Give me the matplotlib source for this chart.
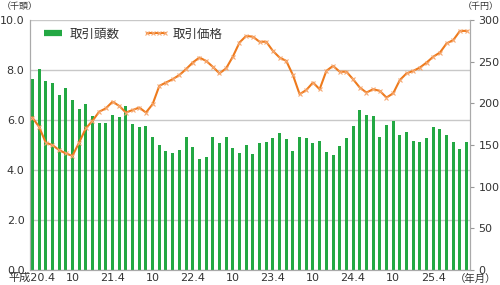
import matplotlib as mpl
import matplotlib.pyplot as plt
from matplotlib.lines import Line2D

# DejaVu for digits, Noto CJK for the japanese glyphs
mpl.rcParams["font.family"] = ["DejaVu Sans", "Noto Sans CJK JP"]

# monthly data, H20.4 - H25.9
heads = [7.63, 8.04, 7.57, 7.47, 7.00, 7.29, 6.81, 6.43, 6.63, 6.16, 5.89, 5.89,
         6.21, 6.12, 6.56, 5.84, 5.73, 5.77, 5.32, 5.00, 4.77, 4.69, 4.81, 5.31,
         4.93, 4.43, 4.52, 5.33, 5.08, 5.31, 4.88, 4.69, 5.00, 4.64, 5.09, 5.13,
         5.27, 5.49, 5.24, 4.77, 5.33, 5.28, 5.09, 5.17, 4.72, 4.59, 4.97, 5.29,
         5.76, 6.40, 6.20, 6.16, 5.33, 5.80, 5.97, 5.40, 5.51, 5.17, 5.13, 5.29,
         5.73, 5.64, 5.40, 5.13, 4.83, 5.11]  # 千頭
price = [183, 172, 153, 150, 144, 140, 137, 153, 170, 179, 190, 194,
         202, 197, 189, 192, 195, 189, 199, 221, 225, 229, 234, 241,
         249, 255, 251, 244, 236, 242, 256, 273, 281, 280, 274, 274,
         263, 255, 251, 234, 211, 216, 225, 217, 239, 245, 238, 238,
         229, 219, 213, 217, 215, 207, 212, 228, 236, 239, 243, 249,
         256, 261, 272, 276, 287, 287]  # 千円
xtick_labels = ["平成20.4", "10", "21.4", "10", "22.4", "10",
                "23.4", "10", "24.4", "10", "25.4"]

GREEN = "#23a843"
ORANGE = "#ee7a1c"
GRID = "#c8c8c8"
TXT = "#333333"

x = list(range(len(heads)))

fig = plt.figure(figsize=(5, 2.85), dpi=100)
ax = fig.add_axes([0.06, 0.0526, 0.88, 0.877])
ax2 = ax.twinx()

ax.bar(x, heads, width=0.45, color=GREEN, zorder=2)
ax.set_ylim(0, 10)
ax.set_yticks([0, 2, 4, 6, 8, 10])
ax.set_yticklabels([f"{v:.1f}" for v in [0, 2, 4, 6, 8, 10]])
ax.set_xlim(-0.35, 65.5)
ax.set_xticks(x[::6])
ax.set_xticklabels(xtick_labels)
ax.grid(axis="y", color=GRID, lw=1)
ax.set_axisbelow(True)
ax.tick_params(axis="x", length=0, pad=2, labelsize=8, colors=TXT)
ax.tick_params(axis="y", length=0, pad=4, labelsize=8, colors=TXT)

ax2.plot(x, price, color=ORANGE, lw=1.5, marker="x", ms=3.5,
         mec="#f6a870", mew=0.8, zorder=3)
ax2.set_ylim(0, 300)
ax2.set_yticks(range(0, 301, 50))
ax2.tick_params(axis="y", length=3, width=0.8, pad=3,
                labelsize=8, colors="#999999", labelcolor=TXT)

for a in (ax, ax2):
    a.spines["top"].set_visible(False)
    for s in ("left", "right", "bottom"):
        a.spines[s].set_color("#aaaaaa")
        a.spines[s].set_linewidth(0.8)

# legend with flat bar handle
handles = [Line2D([], [], color=GREEN, lw=4.5, solid_capstyle="butt"),
           Line2D([], [], color=ORANGE, lw=1.5, marker="x", ms=3.5,
                  mec="#f6a870", mew=0.8)]
ax2.legend(handles, ["取引頭数", "取引価格"], loc="upper left",
           bbox_to_anchor=(0.012, 0.99), borderaxespad=0, ncol=2,
           frameon=False, fontsize=9, numpoints=4, handlelength=2.0,
           handletextpad=0.35, columnspacing=1.9, labelcolor=TXT)

fig.text(0.004, 0.978, "（千頭）", fontsize=6.5, color=TXT, va="center")
fig.text(0.998, 0.978, "（千円）", fontsize=6.5, color=TXT, va="center", ha="right")
fig.text(0.992, 0.022, "（年月）", fontsize=7.5, color=TXT, va="center", ha="right")

fig.savefig("out.png", dpi=100)
